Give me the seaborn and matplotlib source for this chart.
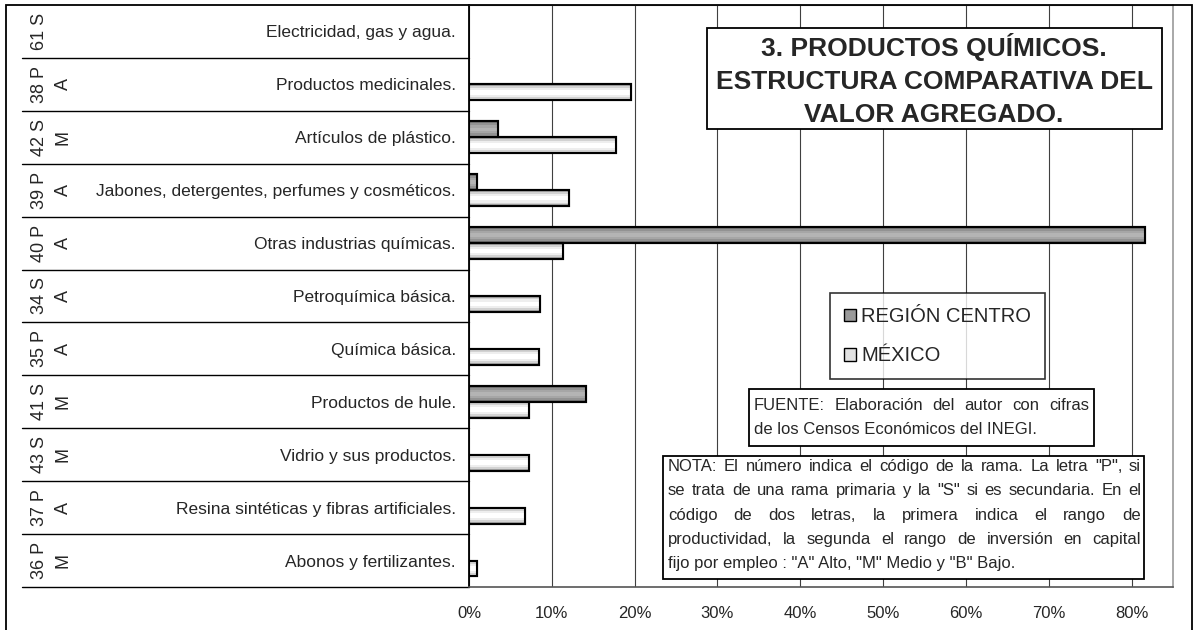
import numpy as np
import pandas as pd
import matplotlib.pyplot as plt
import seaborn as sns
from matplotlib.patches import Rectangle, Patch
from matplotlib.transforms import blended_transform_factory

# Datos (% del valor agregado)
ramas = ["Electricidad, gas y agua.", "Productos medicinales.", "Artículos de plástico.",
         "Jabones, detergentes, perfumes y cosméticos.", "Otras industrias químicas.",
         "Petroquímica básica.", "Química básica.", "Productos de hule.",
         "Vidrio y sus productos.", "Resina sintéticas y fibras artificiales.",
         "Abonos y fertilizantes."]
codigos = ["61 S", "38 P", "42 S", "39 P", "40 P", "34 S", "35 P", "41 S", "43 S", "37 P", "36 P"]
rangos = ["", "A", "M", "A", "A", "A", "A", "M", "M", "A", "M"]
region_centro = [0.0, 0.0, 3.5, 1.0, 81.6, 0.0, 0.0, 14.1, 0.0, 0.0, 0.0]
mexico = [0.0, 19.6, 17.8, 12.1, 11.4, 8.6, 8.4, 7.2, 7.2, 6.8, 1.0]
series = ["REGIÓN CENTRO", "MÉXICO"]
ticks_x = [0, 10, 20, 30, 40, 50, 60, 70, 80]

titulo = ["3. PRODUCTOS QUÍMICOS.", "ESTRUCTURA COMPARATIVA DEL", "VALOR AGREGADO."]
fuente = ["FUENTE: Elaboración del autor con cifras",
          "de los Censos Económicos del INEGI."]
nota = ['NOTA: El número indica el código de la rama. La letra "P", si',
        'se trata de una rama primaria y la "S" si es secundaria. En el',
        'código de dos letras, la primera indica el rango de',
        'productividad, la segunda el rango de inversión en capital',
        'fijo por empleo : "A" Alto, "M" Medio y "B" Bajo.']

sns.set_style("white")
plt.rcParams['font.family'] = ['Liberation Sans', 'DejaVu Sans']

n = len(ramas)
df = pd.DataFrame({
    "rama": ramas * 2,
    "serie": [series[0]] * n + [series[1]] * n,
    "valor": region_centro + mexico,
})

W, H = 1194, 630
fig = plt.figure(figsize=(W / 100, H / 100), dpi=100)
fig.patch.set_facecolor("white")
ax = fig.add_axes([469 / W, 1 - 587 / H, (1173 - 469) / W, (587 - 5) / H])

colores = {"REGIÓN CENTRO": "#7a7a7a", "MÉXICO": "#a8a8a8"}
franjas = {
    "#7a7a7a": [(0.78, "#929292"), (0.52, "#a6a6a6"), (0.22, "#b4b4b4")],
    "#a8a8a8": [(0.80, "#d2d2d2"), (0.56, "#eeeeee"), (0.30, "#ffffff")],
}
colores_leyenda = {"REGIÓN CENTRO": "#9a9a9a", "MÉXICO": "#e2e2e2"}

sns.barplot(data=df, y="rama", x="valor", hue="serie", order=ramas, hue_order=series,
            palette=colores, width=0.6, edgecolor="black", linewidth=1.5,
            ax=ax, legend=False, zorder=3)

# Sombreado tipo degradado de Excel
for p in list(ax.patches):
    x, y, w, h = p.get_x(), p.get_y(), p.get_width(), p.get_height()
    if w <= 0:
        p.set_visible(False)
        continue
    base = "#%02x%02x%02x" % tuple(int(round(c * 255)) for c in p.get_facecolor()[:3])
    for frac, col in franjas.get(base, []):
        hh = h * frac
        ax.add_patch(Rectangle((x, y + (h - hh) / 2), w, hh, facecolor=col,
                               edgecolor="none", zorder=4))
    ax.add_patch(Rectangle((x, y), w, h, fill=False, edgecolor="black",
                           linewidth=1.5, zorder=5))

ax.set_xlim(0, 85)
ax.set_ylim(n - 0.5, -0.5)
ax.set_xticks(ticks_x)
ax.set_xticklabels([f"{t}%" for t in ticks_x])
ax.set_xlabel("")
ax.set_ylabel("")
ax.tick_params(axis="x", length=4, width=1, color="black", labelsize=12, pad=10)
ax.tick_params(axis="y", length=0, labelsize=12.5, pad=9.5)
ax.xaxis.grid(True, color="#404040", linewidth=0.8)
ax.yaxis.grid(False)
ax.set_axisbelow(True)

ax.spines["left"].set_color("black")
ax.spines["left"].set_linewidth(1.3)
ax.spines["bottom"].set_color("#555555")
ax.spines["bottom"].set_linewidth(1.2)
ax.spines["top"].set_color("#777777")
ax.spines["right"].set_color("#999999")
ax.spines["right"].set_linewidth(1.2)

# Eje de categorías con dos niveles
trans = blended_transform_factory(ax.transAxes, ax.transData)
x_izq = (22 - 469) / (1173 - 469)
for b in np.arange(n) + 0.5:
    ax.plot([x_izq, 0], [b, b], transform=trans, color="black", lw=1, clip_on=False)
for i in range(n):
    ax.text((40 - 469) / (1173 - 469), i, codigos[i], transform=trans, rotation=90,
            ha="center", va="center", fontsize=13)
    if rangos[i]:
        ax.text((63 - 469) / (1173 - 469), i, rangos[i], transform=trans, rotation=90,
                ha="center", va="center", fontsize=13)

# Marco del área del gráfico
fig.add_artist(Rectangle((6 / W, -0.1), (1192 - 6) / W, 1 - 5 / H + 0.1,
                         transform=fig.transFigure, fill=False, edgecolor="black", lw=1.3))


def caja(x0, y0, x1, y1):
    fig.add_artist(Rectangle((x0 / W, 1 - y1 / H), (x1 - x0) / W, (y1 - y0) / H,
                             transform=fig.transFigure, facecolor="white",
                             edgecolor="black", lw=1.3, zorder=2))


def texto_justificado(renglones, x0, x1, ys, size):
    # ys: posición del centro de cada renglón; se coloca sobre la línea base
    r = fig.canvas.get_renderer()
    for k, (renglon, y) in enumerate(zip(renglones, ys)):
        yb = 1 - (y + 0.3 * size) / H
        palabras = renglon.split(" ")
        if k == len(renglones) - 1:
            fig.text(x0 / W, yb, renglon, ha="left", va="baseline",
                     fontsize=size, zorder=3)
            continue
        objs = [fig.text(0, yb, p, ha="left", va="baseline", fontsize=size, zorder=3)
                for p in palabras]
        anchos = [t.get_window_extent(r).width for t in objs]
        hueco = (x1 - x0 - sum(anchos)) / (len(palabras) - 1)
        x = x0
        for t, a in zip(objs, anchos):
            t.set_x(x / W)
            x += a + hueco


# Título
caja(707, 28, 1162, 129)
for linea, y in zip(titulo, [47, 82, 115]):
    fig.text(934 / W, 1 - y / H, linea, ha="center", va="center", fontsize=19,
             fontweight="bold", zorder=3)

# Leyenda
manijas = [Patch(facecolor=colores_leyenda[s], edgecolor="black", linewidth=1) for s in series]
leg = fig.legend(manijas, series, loc="upper left", bbox_to_anchor=(830 / W, 1 - 293 / H),
                 bbox_transform=fig.transFigure, frameon=True, fancybox=False,
                 edgecolor="black", fontsize=14.5, handlelength=0.6, handleheight=0.6,
                 handletextpad=0.25, borderpad=0.7, labelspacing=1.0, borderaxespad=0)
leg.get_frame().set_linewidth(1.2)
leg.set_zorder(3)

# Fuente y nota
caja(749, 389, 1094, 446)
texto_justificado(fuente, 754, 1089, [406, 430], 12)
caja(663, 456, 1144, 579)
texto_justificado(nota, 668, 1141, [467, 491, 516, 540, 564], 12)

fig.savefig("out.png", dpi=100)
